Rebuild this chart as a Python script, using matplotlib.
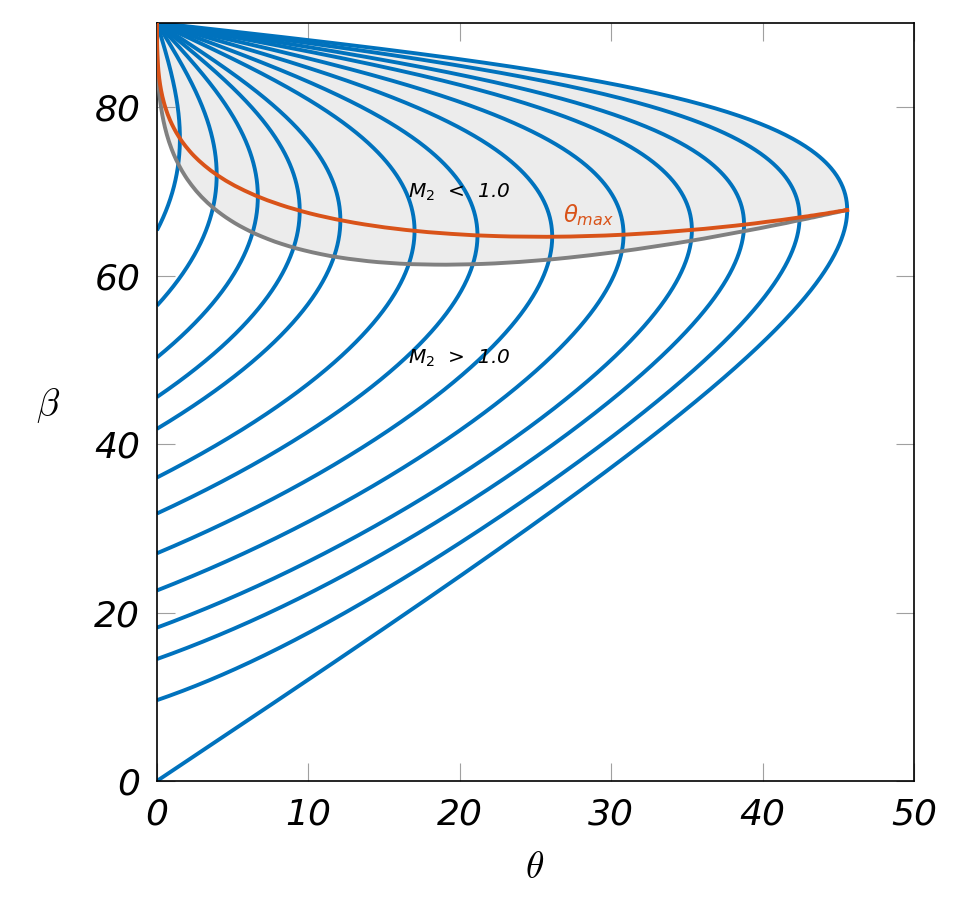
import numpy as np
import matplotlib.pyplot as plt

# theta-beta-M chart for oblique shocks
gamma = 1.4
mach_numbers = [1.1, 1.2, 1.3, 1.4, 1.5, 1.7, 1.9, 2.2, 2.6, 3.2, 4.0, 6.0, np.inf]

blue = "#0072BD"
orange = "#D95319"
grey = "#808080"


def theta_of_beta(M, beta):
    b = np.radians(beta)
    if np.isinf(M):
        t = np.arctan(np.sin(2 * b) / (gamma + np.cos(2 * b)))
    else:
        t = np.arctan(2 / np.tan(b) * (M**2 * np.sin(b)**2 - 1)
                      / (M**2 * (gamma + np.cos(2 * b)) + 2))
    return np.degrees(t)


def beta_range(M, n=800):
    mu = 0.0 if np.isinf(M) else np.degrees(np.arcsin(1 / M))
    return np.linspace(mu, 90, n)


def downstream_mach(M, beta, theta):
    b = np.radians(beta)
    mn1 = M * np.sin(b)
    mn2 = np.sqrt((1 + (gamma - 1) / 2 * mn1**2) / (gamma * mn1**2 - (gamma - 1) / 2))
    return mn2 / np.sin(b - np.radians(theta))


# theta_max and sonic (M2 = 1) lines
sweep = 1 + np.geomspace(1e-4, 1e4, 400)
tmax_t, tmax_b, son_t, son_b = [], [], [], []
for M in sweep:
    b = beta_range(M, 4000)[1:-1]
    t = theta_of_beta(M, b)
    i = np.argmax(t)
    tmax_t.append(t[i])
    tmax_b.append(b[i])
    m2 = downstream_mach(M, b[:i + 1], t[:i + 1])
    j = np.argmax(m2 < 1) if np.any(m2 < 1) else i
    son_t.append(t[j])
    son_b.append(b[j])

tmax_t = [0] + tmax_t
tmax_b = [90] + tmax_b
son_t = [0] + son_t
son_b = [90] + son_b

fig = plt.figure(figsize=(9.78, 9.19), dpi=100)
ax = fig.add_axes([0.1605, 0.1502, 0.7741, 0.8248])

# shaded subsonic region: above sonic line, inside M=inf curve
b_inf = beta_range(np.inf, 2000)
t_inf = theta_of_beta(np.inf, b_inf)
k = np.argmax(t_inf)
poly_t = np.concatenate([son_t, t_inf[k:]])
poly_b = np.concatenate([son_b, b_inf[k:]])
ax.fill(poly_t, poly_b, color="#ECECEC", lw=0, zorder=1)

for M in mach_numbers:
    b = beta_range(M)
    ax.plot(theta_of_beta(M, b), b, color=blue, lw=2.8, zorder=2,
            solid_capstyle="butt")

ax.plot(son_t, son_b, color=grey, lw=2.8, zorder=3)
ax.plot(tmax_t, tmax_b, color=orange, lw=2.8, zorder=4)

ax.text(16.6, 69.3, r"$M_2$  <  1.0", style="italic", fontsize=14.5)
ax.text(16.6, 49.5, r"$M_2$  >  1.0", style="italic", fontsize=14.5)
ax.text(26.8, 66.3, r"$\theta_{max}$", color=orange, fontsize=16.5)

ax.set_xlim(0, 50)
ax.set_ylim(0, 90)
ax.set_xticks([0, 10, 20, 30, 40, 50])
ax.set_yticks([0, 20, 40, 60, 80])
ax.tick_params(direction="in", length=13, width=0.8, color="#A0A0A0",
               top=True, right=True, labelsize=26, pad=12)
for lab in ax.get_xticklabels() + ax.get_yticklabels():
    lab.set_fontstyle("italic")
for s in ax.spines.values():
    s.set_linewidth(1.2)

ax.set_xlabel(r"$\theta$", fontsize=27, math_fontfamily="cm", va="center")
ax.set_ylabel(r"$\beta$", fontsize=27, math_fontfamily="cm", rotation=0,
              ha="center", va="center")
ax.xaxis.set_label_coords(0.4993, -0.115)
ax.yaxis.set_label_coords(-0.144, 0.496)

fig.savefig("out.png", dpi=100)
